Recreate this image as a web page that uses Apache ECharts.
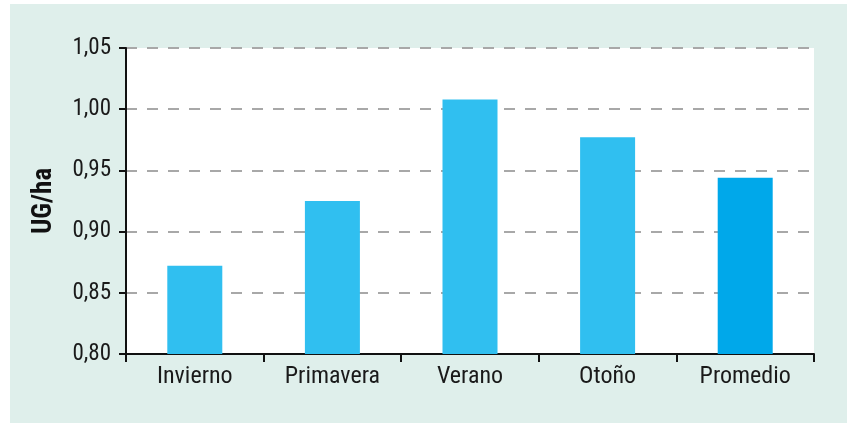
<!DOCTYPE html>
<html>
<head>
<meta charset="utf-8">
<script src="https://cdn.jsdelivr.net/npm/echarts@6/dist/echarts.min.js"></script>
<style>
html, body { margin: 0; padding: 0; background: #fff; }
#chart { width: 853px; height: 423px; }
</style>
</head>
<body>
<div id="chart"></div>
<script>
// datos
const categorias = ['Invierno', 'Primavera', 'Verano', 'Otoño', 'Promedio'];
const valores = [0.872, 0.925, 1.008, 0.977, 0.944];
const colores = ['#30bff0', '#30bff0', '#30bff0', '#30bff0', '#00a8ea'];

const fuente = '"Liberation Sans Narrow", "Roboto Condensed", "Liberation Sans", sans-serif';

let myChart = echarts.init(document.getElementById('chart'));

let option = {
    backgroundColor: '#ffffff',
    animation: false,
    graphic: [{
        type: 'rect',
        z: -10,
        shape: { x: 10, y: 4, width: 837, height: 419 },
        style: { fill: '#dfefeb' }
    }],
    grid: {
        left: 126, right: 39, top: 48, bottom: 69,
        show: true,
        backgroundColor: '#ffffff',
        borderWidth: 0
    },
    xAxis: {
        type: 'category',
        data: categorias,
        axisLine: { lineStyle: { color: '#111', width: 2 } },
        axisTick: { show: true, length: 8, lineStyle: { color: '#111', width: 2 } },
        axisLabel: { color: '#1a1a1a', fontFamily: fuente, fontSize: 24, margin: 11 }
    },
    yAxis: {
        type: 'value',
        min: 0.8,
        max: 1.05,
        interval: 0.05,
        name: 'UG/ha',
        nameLocation: 'middle',
        nameGap: 68,
        nameRotate: 90,
        nameTextStyle: { color: '#111', fontFamily: fuente, fontSize: 27, fontWeight: 'bold' },
        axisLine: { show: true, lineStyle: { color: '#111', width: 2 } },
        axisTick: { show: true, length: 7, lineStyle: { color: '#111', width: 2 } },
        axisLabel: {
            color: '#1a1a1a', fontFamily: fuente, fontSize: 23, margin: 15,
            formatter: v => v.toFixed(2).replace('.', ',')
        },
        splitLine: { lineStyle: { color: '#a8a8a8', width: 2, type: [11, 10] } }
    },
    series: [{
        type: 'bar',
        barWidth: 55,
        data: valores.map((v, i) => ({ value: v, itemStyle: { color: colores[i] } }))
    }]
};

myChart.setOption(option);
</script>
</body>
</html>
